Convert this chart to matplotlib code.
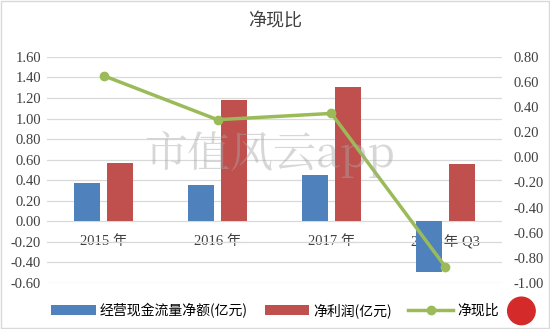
import matplotlib.pyplot as plt
from matplotlib.patches import Ellipse
import numpy as np

plt.rcParams['font.family'] = ['Liberation Serif', 'Noto Sans CJK SC', 'DejaVu Sans']

categories = ['2015 年', '2016 年', '2017 年', '2018 年 Q3']
cash_flow = [0.37, 0.35, 0.45, -0.49]      # 经营现金流量净额(亿元)
net_profit = [0.57, 1.18, 1.31, 0.56]      # 净利润(亿元)
ratio = [0.65, 0.30, 0.35, -0.87]          # 净现比

left_ticks = [1.60, 1.40, 1.20, 1.00, 0.80, 0.60, 0.40, 0.20, 0.00, -0.20, -0.40, -0.60]
right_ticks = [0.80, 0.60, 0.40, 0.20, 0.00, -0.20, -0.40, -0.60, -0.80, -1.00]

fig = plt.figure(figsize=(5.5, 3.29), dpi=100)
ax = fig.add_axes([0.085, 0.14, 0.828, 0.687])

x = np.arange(len(categories))
w = 0.23
gap = 0.06
b1 = ax.bar(x - (w + gap) / 2, cash_flow, w, color='#4F81BD', label='经营现金流量净额(亿元)', zorder=2)
b2 = ax.bar(x + (w + gap) / 2, net_profit, w, color='#C0504D', label='净利润(亿元)', zorder=2)

ax.set_xlim(-0.5, len(categories) - 0.5)
ax.set_ylim(-0.6, 1.6)
ax.set_yticks(left_ticks)
ax.set_yticklabels([f'{t:.2f}' for t in left_ticks])
ax.grid(axis='y', color='#D9D9D9', linewidth=0.9, zorder=0)
for s in ax.spines.values():
    s.set_visible(False)
ax.spines['bottom'].set_position(('data', 0))
ax.set_xticks(x)
ax.set_xticklabels(categories, fontsize=10.5, color='#404040',
                   family=['Liberation Serif', 'Noto Sans CJK SC'])
ax.tick_params(axis='x', length=0, pad=10)
ax.tick_params(axis='y', length=0, labelsize=10.5, labelcolor='#404040', pad=4)

ax2 = ax.twinx()
ax2.set_ylim(-1.0, 0.8)
ax2.set_yticks(right_ticks)
ax2.set_yticklabels([f'{t:.2f}' for t in right_ticks])
ax2.tick_params(axis='y', length=0, labelsize=10.5, labelcolor='#404040', pad=8)
for s in ax2.spines.values():
    s.set_visible(False)
l1, = ax2.plot(x, ratio, color='#9BBB59', linewidth=2.5, marker='o', markersize=6,
               label='净现比', zorder=3)

fig.text(0.5, 0.935, '净现比', ha='center', va='center', fontsize=13,
         color='#404040', family=['Noto Sans CJK SC'])

# watermark
fig.text(0.49, 0.53, '市值风云app', ha='center', va='center', fontsize=31,
         color='#a8a8a8', alpha=0.45, family=['Noto Serif CJK SC', 'Noto Sans CJK SC'])

fig.legend(handles=[b1, b2, l1], loc='center', bbox_to_anchor=(0.5, 0.057), ncol=3,
           frameon=False, handlelength=3.2, handletextpad=0.3,
           columnspacing=1.2, prop={'family': ['Noto Sans CJK SC'], 'size': 10})

fig.patches.append(plt.Rectangle((0.002, 0.003), 0.996, 0.994, transform=fig.transFigure,
                                 fill=False, edgecolor='#D9D9D9', linewidth=1))
fig.patches.append(Ellipse((0.948, 0.055), 0.05, 0.05 * 550 / 329,
                           transform=fig.transFigure, color='#D42A2A'))

fig.savefig('out.png', dpi=100)
